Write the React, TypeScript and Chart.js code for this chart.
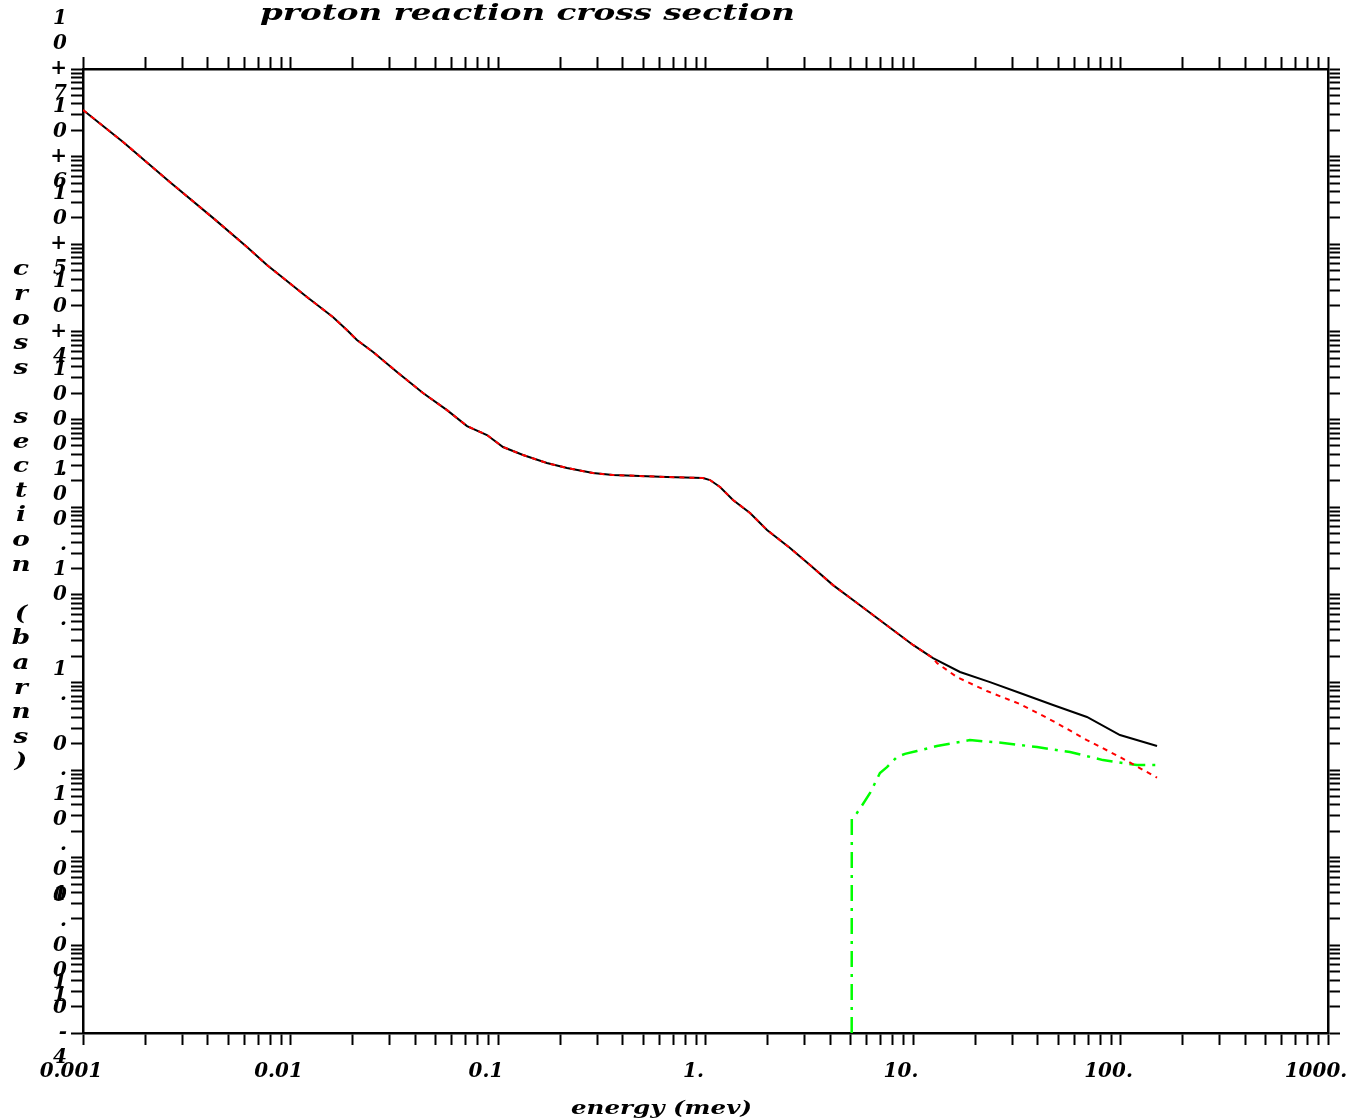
import React, { useEffect, useRef } from "react";
import { Chart, registerables } from "chart.js";

Chart.register(...registerables);

// ---- text ----
const chartTitle = "proton reaction cross section";
const xAxisTitle = "energy (mev)";
const yAxisTitle = "cross section (barns)";

// ---- tick labels ----
const xLabelValues = [0.001, 0.01, 0.1, 1, 10, 100, 1000];
const xTickLabels = ["0.001", "0.01", "0.1", "1.", "10.", "100.", "1000."];
const yLabelValues = [1e-4, 1e-3, 1e-2, 1e-1, 1, 10, 100, 1000, 1e4, 1e5, 1e6, 1e7];
const yTickLabels = ["10-4", "0.001", "0.01", "0.1", "1.", "10.", "100.", "1000.", "10+4", "10+5", "10+6", "10+7"];

// ---- series: total (black) ----
const totalEnergy = [
  0.001, 0.00156, 0.00262, 0.00423, 0.00617, 0.0077, 0.012, 0.016, 0.0187, 0.0209,
  0.025, 0.0326, 0.0435, 0.0568, 0.0709, 0.0885, 0.1057, 0.132, 0.172, 0.215,
  0.287, 0.358, 0.652, 0.973, 1.051, 1.175, 1.357, 1.639, 1.979, 2.554,
  3.189, 4.117, 5.138, 6.415, 8.01, 10.0, 12.49, 16.85, 23.5, 32.8,
  47.3, 68.9, 99.4, 150,
];
const totalXs = [
  3.41e6, 1.47e6, 5.14e5, 2.0e5, 9.3e4, 5.8e4, 2.5e4, 1.48e4, 1.05e4, 8.09e3,
  5.9e3, 3.49e3, 2.01e3, 1.28e3, 843, 666, 486, 394, 319, 280,
  245, 233, 221, 215, 204, 170, 121, 85.8, 54.9, 34.2,
  21.9, 12.9, 8.73, 5.89, 3.97, 2.68, 1.9, 1.316, 1.01, 0.758,
  0.553, 0.404, 0.251, 0.188,
];

// ---- series: elastic (red) ----
const elasticEnergy = [
  0.001, 0.00156, 0.00262, 0.00423, 0.00617, 0.0077, 0.012, 0.016, 0.0187, 0.0209,
  0.025, 0.0326, 0.0435, 0.0568, 0.0709, 0.0885, 0.1057, 0.132, 0.172, 0.215,
  0.287, 0.358, 0.652, 0.973, 1.051, 1.175, 1.357, 1.639, 1.979, 2.554,
  3.189, 4.117, 5.138, 6.415, 8.01, 10.0, 12.49, 13.05, 16.3, 22.7,
  32.8, 47.3, 68.9, 99.4, 150,
];
const elasticXs = [
  3.41e6, 1.47e6, 5.14e5, 2.0e5, 9.3e4, 5.8e4, 2.5e4, 1.48e4, 1.05e4, 8.09e3,
  5.9e3, 3.49e3, 2.01e3, 1.28e3, 843, 666, 486, 394, 319, 280,
  245, 233, 221, 215, 204, 170, 121, 85.8, 54.9, 34.2,
  21.9, 12.9, 8.73, 5.89, 3.97, 2.68, 1.9, 1.667, 1.15, 0.798,
  0.567, 0.363, 0.22, 0.141, 0.082,
];

// ---- series: nonelastic (green) ----
const nonelasticEnergy = [
  5.065, 5.07, 5.37, 5.74, 6.21, 6.93, 7.49, 8.37, 9.15, 10.45,
  13.05, 18.8, 27.2, 39.6, 57.1, 82.4, 120, 150,
];
const nonelasticXs = [
  1e-4, 0.0277, 0.0324, 0.041, 0.0548, 0.0927, 0.108, 0.141, 0.153, 0.165,
  0.188, 0.22, 0.204, 0.183, 0.161, 0.13, 0.114, 0.114,
];

function decadeTicks(fromExp: number, toExp: number): number[] {
  const out: number[] = [];
  for (let e = fromExp; e < toExp; e++) {
    for (let m = 1; m <= 9; m++) out.push(Number((m * Math.pow(10, e)).toPrecision(6)));
  }
  out.push(Math.pow(10, toExp));
  return out;
}
const xTickValues = decadeTicks(-3, 3);
const yTickValues = decadeTicks(-4, 7);

function findLabel(v: number, values: number[], labels: string[]): string | null {
  const lv = Math.log10(v);
  for (let i = 0; i < values.length; i++) {
    if (Math.abs(Math.log10(values[i]) - lv) < 1e-6) return labels[i];
  }
  return null;
}

const FONT = '"DejaVu Serif", serif';

function drawStretched(ctx: CanvasRenderingContext2D, text: string, x: number, y: number, w: number, font: string) {
  ctx.save();
  ctx.font = font;
  ctx.textAlign = "left";
  ctx.textBaseline = "alphabetic";
  const m = ctx.measureText(text).width;
  ctx.translate(x, y);
  ctx.scale(w / m, 1);
  ctx.fillText(text, 0, 0);
  ctx.restore();
}

const textPlugin = {
  id: "oldPlotText",
  afterDraw(chart: any) {
    const ctx: CanvasRenderingContext2D = chart.ctx;
    ctx.save();
    ctx.fillStyle = "#000";
    drawStretched(ctx, chartTitle, 260, 20, 535, `italic bold 23px ${FONT}`);
    drawStretched(ctx, xAxisTitle, 571, 1114, 181, `italic bold 18px ${FONT}`);
    ctx.font = `italic bold 21px ${FONT}`;
    ctx.textAlign = "center";
    ctx.textBaseline = "middle";
    Array.from(yAxisTitle).forEach((c, i) => {
      if (c === " ") return;
      ctx.save();
      ctx.translate(21, 270 + i * 24.6);
      ctx.scale(1.25, 1);
      ctx.fillText(c, 0, 0);
      ctx.restore();
    });
    ctx.restore();
  },
};

const gridOpts = {
  drawOnChartArea: false,
  drawTicks: true,
  tickLength: 12,
  tickWidth: 2,
  tickColor: "#000",
};
const borderOpts = { display: true, color: "#000", width: 2.5 };

export default function App() {
  const ref = useRef<HTMLCanvasElement>(null);

  useEffect(() => {
    if (!ref.current) return;
    const chart = new Chart(ref.current, {
      type: "line",
      data: {
        datasets: [
          {
            label: "elastic",
            data: elasticEnergy.map((e, i) => ({ x: e, y: elasticXs[i] })),
            borderColor: "#ff0000",
            borderWidth: 2,
            borderDash: [5, 5],
            pointRadius: 0,
            tension: 0,
            fill: false,
            xAxisID: "x",
            yAxisID: "y",
          },
          {
            label: "nonelastic",
            data: nonelasticEnergy.map((e, i) => ({ x: e, y: nonelasticXs[i] })),
            borderColor: "#00ff00",
            borderWidth: 2.5,
            borderDash: [16, 7, 3, 7],
            pointRadius: 0,
            tension: 0,
            fill: false,
            xAxisID: "x",
            yAxisID: "y",
          },
          {
            label: "total",
            data: totalEnergy.map((e, i) => ({ x: e, y: totalXs[i] })),
            borderColor: "#000000",
            borderWidth: 2,
            pointRadius: 0,
            tension: 0,
            fill: false,
            xAxisID: "x",
            yAxisID: "y",
          },
        ],
      },
      options: {
        responsive: false,
        maintainAspectRatio: false,
        devicePixelRatio: 1,
        animation: false,
        events: [],
        layout: { padding: 0 },
        plugins: {
          legend: { display: false },
          title: { display: false },
          tooltip: { enabled: false },
        },
        scales: {
          x: {
            type: "logarithmic",
            position: "bottom",
            min: 0.001,
            max: 1000,
            afterBuildTicks: (s: any) => {
              s.ticks = xTickValues.map((v) => ({ value: v }));
            },
            afterFit: (s: any) => {
              s.height = 87;
              s.paddingLeft = 0;
              s.paddingRight = 0;
            },
            grid: gridOpts,
            border: borderOpts,
            ticks: {
              autoSkip: false,
              maxRotation: 0,
              minRotation: 0,
              padding: 15,
              labelOffset: -12,
              color: "#000",
              font: { family: FONT, size: 20, weight: "bold", style: "italic" },
              callback: (v: any) => findLabel(Number(v), xLabelValues, xTickLabels) ?? "",
            },
          },
          x2: {
            type: "logarithmic",
            position: "top",
            min: 0.001,
            max: 1000,
            afterBuildTicks: (s: any) => {
              s.ticks = xTickValues.map((v) => ({ value: v }));
            },
            afterFit: (s: any) => {
              s.height = 69;
              s.paddingLeft = 0;
              s.paddingRight = 0;
            },
            grid: gridOpts,
            border: borderOpts,
            ticks: { display: false, autoSkip: false },
          },
          y: {
            type: "logarithmic",
            position: "left",
            min: 1e-4,
            max: 1e7,
            afterBuildTicks: (s: any) => {
              s.ticks = yTickValues.map((v) => ({ value: v }));
            },
            afterFit: (s: any) => {
              s.width = 83;
              s.paddingTop = 0;
              s.paddingBottom = 0;
            },
            grid: gridOpts,
            border: borderOpts,
            ticks: {
              autoSkip: false,
              padding: 4,
              color: "#000",
              font: { family: FONT, size: 20, weight: "bold", style: "italic", lineHeight: "25px" },
              callback: (v: any) => {
                const lab = findLabel(Number(v), yLabelValues, yTickLabels);
                if (!lab) return "";
                const chars = Array.from(lab);
                if (/^10[+-]\d$/.test(lab)) chars.push("");
                return chars;
              },
            },
          },
          y2: {
            type: "logarithmic",
            position: "right",
            min: 1e-4,
            max: 1e7,
            afterBuildTicks: (s: any) => {
              s.ticks = yTickValues.map((v) => ({ value: v }));
            },
            afterFit: (s: any) => {
              s.width = 18;
              s.paddingTop = 0;
              s.paddingBottom = 0;
            },
            grid: gridOpts,
            border: borderOpts,
            ticks: { display: false, autoSkip: false },
          },
        },
      } as any,
      plugins: [textPlugin],
    });
    return () => chart.destroy();
  }, []);

  return (
    <div style={{ position: "fixed", left: 0, top: 0, width: 1346, height: 1120, background: "#fff" }}>
      <canvas ref={ref} width={1346} height={1120} style={{ display: "block", width: 1346, height: 1120 }} />
    </div>
  );
}
